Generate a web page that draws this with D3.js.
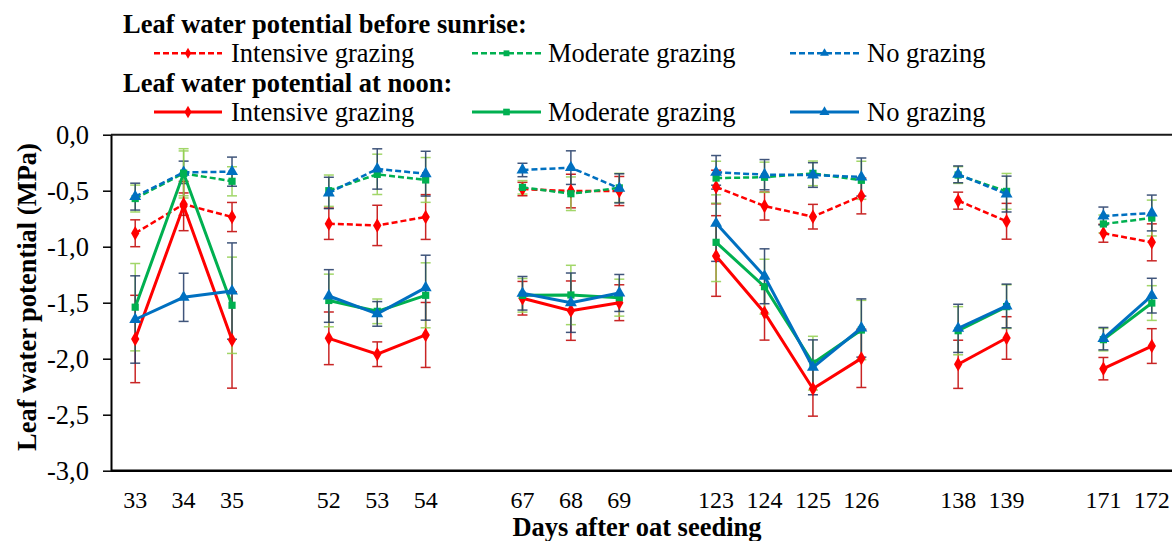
<!DOCTYPE html>
<html>
<head>
<meta charset="utf-8">
<script src="https://cdn.jsdelivr.net/npm/d3@7"></script>
<style>
  html, body { margin: 0; padding: 0; background: #fff; }
  svg { display: block; font-family: "Liberation Serif", "Times New Roman", serif; }
</style>
</head>
<body>
<svg id="chart" width="1172" height="541"></svg>
<script>
// Sampling days (days after oat seeding) and the campaign each belongs to
const days   = ["33","34","35","52","53","54","67","68","69","123","124","125","126","138","139","171","172"];
const groups = [0,0,0,1,1,1,2,2,2,3,3,3,3,4,4,5,5];

// Leaf water potential before sunrise (MPa) and its error
const preIntensive    = [-0.88,-0.62,-0.735,-0.795,-0.81,-0.735,-0.485,-0.503,-0.503,-0.467,-0.637,-0.732,-0.547,-0.589,-0.773,-0.88,-0.961];
const preIntensiveErr = [0.12,0.10,0.13,0.14,0.18,0.20,0.06,0.15,0.13,0.15,0.125,0.11,0.16,0.076,0.16,0.08,0.165];
const preModerate     = [-0.57,-0.345,-0.416,-0.50,-0.354,-0.404,-0.47,-0.527,-0.475,-0.387,-0.38,-0.345,-0.407,-0.36,-0.506,-0.797,-0.744];
const preModerateErr  = [0.12,0.22,0.13,0.14,0.18,0.20,0.06,0.15,0.13,0.15,0.135,0.11,0.17,0.075,0.16,0.08,0.16];
const preNone         = [-0.553,-0.336,-0.33,-0.52,-0.306,-0.348,-0.315,-0.294,-0.479,-0.336,-0.357,-0.36,-0.378,-0.354,-0.53,-0.726,-0.699];
const preNoneErr      = [0.12,0.10,0.13,0.14,0.18,0.20,0.06,0.15,0.13,0.15,0.135,0.11,0.17,0.075,0.16,0.08,0.16];

// Leaf water potential at noon (MPa) and its error
const noonIntensive    = [-1.824,-0.637,-1.833,-1.818,-1.96,-1.788,-1.46,-1.571,-1.50,-1.083,-1.589,-2.268,-1.997,-2.05,-1.815,-2.089,-1.887];
const noonIntensiveErr = [0.39,0.22,0.43,0.235,0.11,0.29,0.15,0.265,0.16,0.36,0.245,0.245,0.26,0.215,0.19,0.10,0.155];
const noonModerate     = [-1.54,-0.345,-1.523,-1.48,-1.577,-1.434,-1.434,-1.431,-1.455,-0.961,-1.357,-2.04,-1.744,-1.75,-1.535,-1.83,-1.503];
const noonModerateErr  = [0.39,0.20,0.43,0.235,0.11,0.29,0.15,0.265,0.165,0.35,0.245,0.24,0.265,0.215,0.195,0.10,0.155];
const noonNone         = [-1.65,-1.452,-1.396,-1.44,-1.60,-1.366,-1.416,-1.50,-1.413,-0.791,-1.264,-2.077,-1.726,-1.729,-1.529,-1.821,-1.437];
const noonNoneErr      = [0.39,0.215,0.43,0.235,0.11,0.29,0.15,0.265,0.165,0.34,0.245,0.245,0.26,0.215,0.195,0.10,0.155];

const yTicks = [0,-0.5,-1,-1.5,-2,-2.5,-3];
const treatments = ["Intensive grazing","Moderate grazing","No grazing"];
const legendTitles = ["Leaf water potential before sunrise:","Leaf water potential at noon:"];

(function draw() {
  const colors    = ["#FF0000","#00B050","#0070C0"];
  const errColors = ["#C00000","#92D050","#1F3864"];
  const shapes    = [d3.symbolDiamond, d3.symbolSquare, d3.symbolTriangle];
  const symSize   = [60, 52, 62];

  const series = [
    {vals: preIntensive,  err: preIntensiveErr,  t: 0, dashed: true},
    {vals: preModerate,   err: preModerateErr,   t: 1, dashed: true},
    {vals: preNone,       err: preNoneErr,       t: 2, dashed: true},
    {vals: noonIntensive, err: noonIntensiveErr, t: 0, dashed: false},
    {vals: noonModerate,  err: noonModerateErr,  t: 1, dashed: false},
    {vals: noonNone,      err: noonNoneErr,      t: 2, dashed: false}
  ];

  // Category slots with an empty slot between campaigns
  const slots = [];
  days.forEach((d, i) => {
    if (i > 0 && groups[i] !== groups[i - 1]) slots.push("gap" + groups[i]);
    slots.push(d);
  });

  const svg = d3.select("#chart");
  const W = 1172, H = 541;
  const plotL = 111, plotR = 1176, plotT = 134.7, plotB = 470.7;

  const x = d3.scalePoint().domain(slots).range([plotL, plotR]).padding(0.5);
  const y = d3.scaleLinear().domain([-3, 0]).range([plotB, plotT]);

  svg.append("rect").attr("width", W).attr("height", H).attr("fill", "#fff");

  // Frame lines
  svg.append("line").attr("x1", plotL).attr("x2", W).attr("y1", plotT).attr("y2", plotT)
    .attr("stroke", "#1a1a1a").attr("stroke-width", 2);
  svg.append("line").attr("x1", plotL).attr("x2", W).attr("y1", plotB).attr("y2", plotB)
    .attr("stroke", "#000").attr("stroke-width", 2.5);

  // Y axis
  const fmt = v => d3.format(".1f")(v).replace(".", ",").replace("\u2212", "-");
  const yAxis = svg.append("g").attr("transform", `translate(${plotL},0)`)
    .call(d3.axisLeft(y).tickValues(yTicks).tickFormat(fmt).tickSize(8).tickPadding(14).tickSizeOuter(0));
  yAxis.attr("font-family", null);
  yAxis.select(".domain").attr("stroke", "#000").attr("stroke-width", 2);
  yAxis.selectAll(".tick line").attr("stroke", "#000").attr("stroke-width", 1.5);
  yAxis.selectAll(".tick text").attr("font-family", "Liberation Serif").attr("font-size", 26.5)
    .attr("fill", "#000").attr("dy", "0.34em");

  // X tick labels
  svg.append("g").selectAll("text").data(days).join("text")
    .attr("x", d => x(d)).attr("y", 508)
    .attr("text-anchor", "middle").attr("font-size", 24).attr("fill", "#000")
    .text(d => d);

  // Axis titles
  svg.append("text").attr("x", 637).attr("y", 536).attr("text-anchor", "middle")
    .attr("font-size", 26.5).attr("font-weight", "bold").attr("fill", "#000")
    .text("Days after oat seeding");
  svg.append("text").attr("transform", "translate(36,297) rotate(-90)").attr("text-anchor", "middle")
    .attr("font-size", 26.5).attr("font-weight", "bold").attr("fill", "#000")
    .text("Leaf water potential (MPa)");

  // Error bars
  const eb = svg.append("g");
  series.forEach(s => {
    const g = eb.append("g").attr("stroke", errColors[s.t]).attr("stroke-width", 1.5).attr("opacity", 0.85);
    s.vals.forEach((v, i) => {
      const cx = x(days[i]);
      const y1 = y(v + s.err[i]), y2 = y(v - s.err[i]);
      g.append("line").attr("x1", cx).attr("x2", cx).attr("y1", y1).attr("y2", y2);
      g.append("line").attr("x1", cx - 5).attr("x2", cx + 5).attr("y1", y1).attr("y2", y1);
      g.append("line").attr("x1", cx - 5).attr("x2", cx + 5).attr("y1", y2).attr("y2", y2);
    });
  });

  // Lines (broken between campaigns) and markers
  const line = d3.line().x(d => x(d.day)).y(d => y(d.v));
  series.forEach(s => {
    const pts = s.vals.map((v, i) => ({day: days[i], v, g: groups[i]}));
    const segs = d3.groups(pts, d => d.g).map(e => e[1]);
    const g = svg.append("g");
    segs.forEach(seg => {
      g.append("path").attr("d", line(seg)).attr("fill", "none")
        .attr("stroke", colors[s.t])
        .attr("stroke-width", s.dashed ? 2.5 : 3)
        .attr("stroke-dasharray", s.dashed ? "6,3" : null);
    });
    g.selectAll("path.m").data(pts).join("path").attr("class", "m")
      .attr("transform", d => `translate(${x(d.day)},${y(d.v)})`)
      .attr("d", d3.symbol().type(shapes[s.t]).size(symSize[s.t]))
      .attr("fill", colors[s.t]);
  });

  // Legend
  const lg = svg.append("g");
  const titleY = [33, 92];
  const rowY = [53.3, 112];
  const sampleX = [[154, 222], [472, 541], [790, 859]];
  const textX = [231, 548, 867];
  legendTitles.forEach((t, r) => {
    lg.append("text").attr("x", 123).attr("y", titleY[r]).attr("font-size", 26.5)
      .attr("font-weight", "bold").attr("fill", "#000").text(t);
    treatments.forEach((name, k) => {
      const [a, b] = sampleX[k];
      lg.append("line").attr("x1", a).attr("x2", b).attr("y1", rowY[r]).attr("y2", rowY[r])
        .attr("stroke", colors[k]).attr("stroke-width", r === 0 ? 2.5 : 3)
        .attr("stroke-dasharray", r === 0 ? "6,3" : null);
      lg.append("path").attr("transform", `translate(${(a + b) / 2},${rowY[r]})`)
        .attr("d", d3.symbol().type(shapes[k]).size(r === 0 ? 34 : 44))
        .attr("fill", colors[k]);
      lg.append("text").attr("x", textX[k]).attr("y", rowY[r] + 9).attr("font-size", 26.5)
        .attr("fill", "#000").text(name);
    });
  });
})();
</script>
</body>
</html>
